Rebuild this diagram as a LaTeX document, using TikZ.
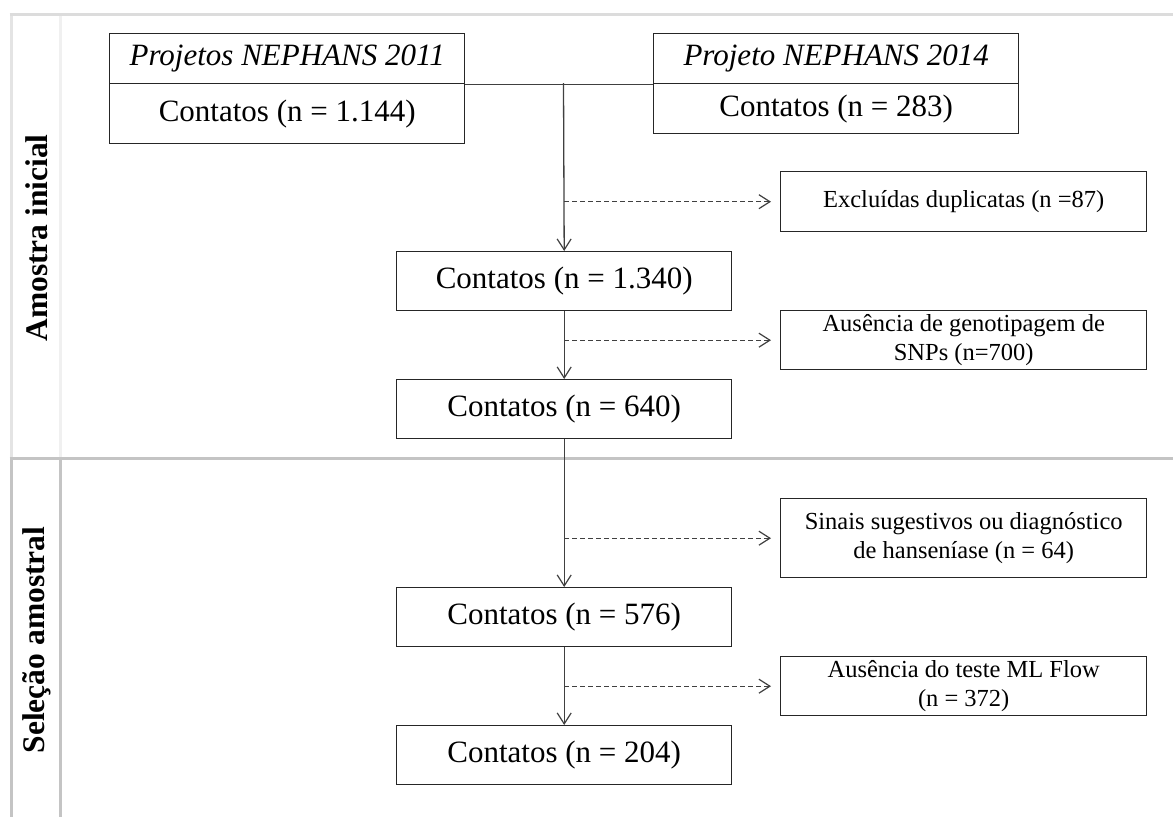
\documentclass[tikz,border=0pt]{standalone}
\usepackage{fontspec}
\setmainfont{Liberation Serif}
\usetikzlibrary{arrows.meta}
\definecolor{topcol}{HTML}{DCDCDC}
\definecolor{uppercol}{HTML}{E4E4E4}
\definecolor{innercol}{HTML}{F0F0F0}
\definecolor{lowercol}{HTML}{C4C4C4}
\definecolor{boxcol}{HTML}{262626}
\definecolor{linecol}{HTML}{404040}
\begin{document}
\begin{tikzpicture}[x=1pt,y=-1pt,
  bigbox/.style={draw=boxcol, line width=1.4pt, anchor=north west, inner sep=0pt,
    minimum height=59pt, font=\fontsize{31}{36}\selectfont, align=center},
  headbox/.style={bigbox, minimum height=50pt, font=\itshape\fontsize{31}{36}\selectfont},
  midbox/.style={bigbox, minimum width=335pt},
  exbox/.style={draw=boxcol, line width=1.4pt, anchor=north west, inner sep=0pt,
    minimum width=366pt, font=\fontsize{24.5}{29}\selectfont, align=center},
  sidelabel/.style={rotate=90, font=\bfseries\fontsize{31.5}{36}\selectfont},
  framelight/.style={line width=3pt},
  flow/.style={draw=linecol, line width=1.3pt, -{Straight Barb[length=11pt,width=14pt,line width=1.2pt]}},
  excl/.style={flow, dash pattern=on 5pt off 3pt}
]
\useasboundingbox (0,0) rectangle (1173,817);

% frame
\draw[framelight, uppercol] (11,14) -- (11,458);
\draw[framelight, innercol] (60.5,14) -- (60.5,458);
\draw[framelight, lowercol] (11,458) -- (11,817);
\draw[framelight, lowercol] (60.5,458) -- (60.5,817);
\draw[framelight, topcol] (9.5,14) -- (1173,14);
\draw[framelight, lowercol] (9.5,458) -- (1173,458);

\node[sidelabel] (lab1) at (36.5,238) {Amostra inicial};
\node[sidelabel] (lab2) at (36.5,640) {Seleção amostral};

% top boxes
\node[headbox, minimum width=355pt] (a1) at (109,33) {Projetos NEPHANS 2011};
\node[bigbox, minimum width=355pt, minimum height=60pt] (a2) at (109,83) {Contatos (n = 1.144)};
\node[headbox, minimum width=365pt] (b1) at (653,33) {Projeto NEPHANS 2014};
\node[bigbox, minimum width=365pt, minimum height=50pt] (b2) at (653,83) {Contatos (n = 283)};

\draw[draw=linecol, line width=1.3pt] (a1.south east) -- (b1.south west);
\coordinate (j) at (563.5,83);

% main column
\node[midbox] (c) at (396,251) {Contatos (n = 1.340)};
\node[midbox] (d) at (396,379) {Contatos (n = 640)};
\node[midbox] (e) at (396,587) {Contatos (n = 576)};
\node[midbox] (f) at (396,725) {Contatos (n = 204)};

% exclusion boxes
\node[exbox, minimum height=60pt] (x1) at (780,171) {Excluídas duplicatas (n =87)};
\node[exbox, minimum height=59pt] (x2) at (780,310) {Ausência de genotipagem de\\SNPs (n=700)};
\node[exbox, minimum height=79pt] (x3) at (780,498) {Sinais sugestivos ou diagnóstico\\de hanseníase (n = 64)};
\node[exbox, minimum height=59pt] (x4) at (780,656) {Ausência do teste ML Flow\\(n = 372)};

% connectors
\draw[flow] (j) -- (c.north);
\draw[flow] (c.south) -- (d.north);
\draw[flow] (d.south) -- (e.north);
\draw[flow] (e.south) -- (f.north);

\draw[excl] (x1.west -| c.north) -- ([xshift=-9pt]x1.west);
\draw[excl] (x2.west -| c.north) -- ([xshift=-9pt]x2.west);
\draw[excl] (x3.west -| c.north) -- ([xshift=-9pt]x3.west);
\draw[excl] (x4.west -| c.north) -- ([xshift=-9pt]x4.west);
\end{tikzpicture}
\end{document}
